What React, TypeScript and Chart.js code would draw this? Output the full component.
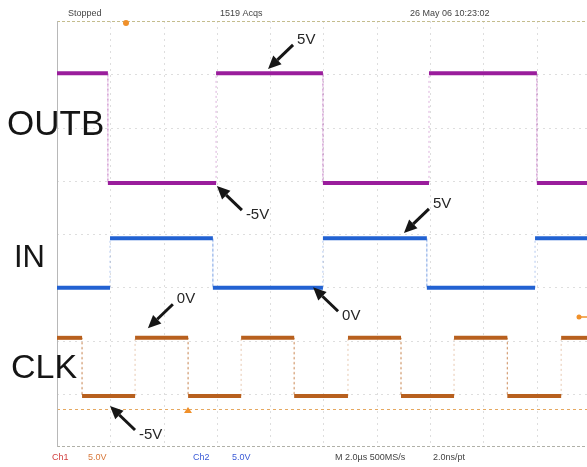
import { useEffect, useRef } from 'react';
import { Chart, registerables } from 'chart.js';

Chart.register(...registerables);

// ---- Data (time in µs, level in screen divisions from bottom) ----
const X_MAX = 19.89; // visible time span (µs), 2 µs/div
const Y_MAX = 8; // vertical divisions

const xGridValues = [2, 4, 6, 8, 10, 12, 14, 16, 18];
const yGridValues = [1, 2, 3, 4, 5, 6, 7];

const outbEdges = [1.91, 5.97, 9.98, 13.96, 18.01];
const outbLevels = [7.02, 4.96, 7.02, 4.96, 7.02, 4.96];

const inEdges = [1.99, 5.85, 9.98, 13.88, 17.94];
const inLevels = [2.99, 3.92, 2.99, 3.92, 2.99, 3.92];

const clkEdges = [0.94, 2.93, 4.92, 6.91, 8.9, 10.92, 12.91, 14.9, 16.9, 18.92];
const clkLevels = [2.05, 0.96, 2.05, 0.96, 2.05, 0.96, 2.05, 0.96, 2.05, 0.96, 2.05];

const clkRefLevel = 0.72; // orange dashed reference line

const signalNames = ['OUTB', 'IN', 'CLK'];
const signalColors = ['#9a1d9c', '#2262d2', '#b8601e'];
const signalFaint = ['rgba(154,29,156,0.35)', 'rgba(34,98,210,0.35)', 'rgba(184,96,30,0.35)'];

// arrow annotations: target point (µs, div)
const annoTexts = ['5V', '-5V', '5V', '0V', '0V', '-5V'];
const annoX = [7.92, 6.0, 13.02, 3.41, 9.61, 1.99];
const annoY = [7.1, 4.9, 4.02, 2.23, 3.0, 0.77];
const annoDir = [
  [1, -1],
  [1, 1],
  [1, -1],
  [1, -1],
  [1, 1],
  [1, 1],
];

const FONT = '"Liberation Sans", Arial, sans-serif';

function buildSteps(edges: number[], levels: number[]) {
  const pts: { x: number; y: number }[] = [{ x: 0, y: levels[0] }];
  edges.forEach((t, i) => {
    pts.push({ x: t, y: levels[i] });
    pts.push({ x: t, y: levels[i + 1] });
  });
  pts.push({ x: X_MAX, y: levels[levels.length - 1] });
  return pts;
}

const gridPlugin = {
  id: 'scopeGrid',
  beforeDatasetsDraw(chart: any) {
    const { ctx, chartArea, scales } = chart;
    const { left, right, top, bottom } = chartArea;
    const xs = scales.x;
    const ys = scales.y;
    ctx.save();
    ctx.lineWidth = 1;
    ctx.strokeStyle = '#dedede';
    ctx.setLineDash([2, 4]);
    xGridValues.forEach((v) => {
      const px = Math.round(xs.getPixelForValue(v)) + 0.5;
      ctx.beginPath();
      ctx.moveTo(px, top);
      ctx.lineTo(px, bottom);
      ctx.stroke();
    });
    yGridValues.forEach((v) => {
      const py = Math.round(ys.getPixelForValue(v)) + 0.5;
      ctx.beginPath();
      ctx.moveTo(left, py);
      ctx.lineTo(right, py);
      ctx.stroke();
    });
    // top & bottom borders
    ctx.setLineDash([3, 2]);
    ctx.strokeStyle = '#c4bd8e';
    let py = Math.round(ys.getPixelForValue(Y_MAX)) + 0.5;
    ctx.beginPath();
    ctx.moveTo(left, py);
    ctx.lineTo(right, py);
    ctx.stroke();
    ctx.strokeStyle = '#b0b0a8';
    py = Math.round(ys.getPixelForValue(0)) - 0.5;
    ctx.beginPath();
    ctx.moveTo(left, py);
    ctx.lineTo(right, py);
    ctx.stroke();
    // orange reference
    ctx.strokeStyle = '#e6a860';
    ctx.setLineDash([3, 3]);
    py = Math.round(ys.getPixelForValue(clkRefLevel)) + 0.5;
    ctx.beginPath();
    ctx.moveTo(left, py);
    ctx.lineTo(right, py);
    ctx.stroke();
    // left border
    ctx.setLineDash([]);
    ctx.strokeStyle = '#b8b8b8';
    const lx = Math.round(xs.getPixelForValue(0)) + 0.5;
    ctx.beginPath();
    ctx.moveTo(lx, top);
    ctx.lineTo(lx, bottom);
    ctx.stroke();
    ctx.restore();
  },
};

const overlayPlugin = {
  id: 'scopeOverlay',
  afterDatasetsDraw(chart: any) {
    const { ctx, scales } = chart;
    const xs = scales.x;
    const ys = scales.y;
    ctx.save();
    // arrows
    annoTexts.forEach((t, i) => {
      const hx = xs.getPixelForValue(annoX[i]);
      const hy = ys.getPixelForValue(annoY[i]);
      const [dx, dy] = annoDir[i];
      const tx = hx + dx * 25;
      const ty = hy + dy * 24;
      const ang = Math.atan2(hy - ty, hx - tx);
      const hl = 13;
      const hw = 6;
      const bx = hx - hl * Math.cos(ang);
      const by = hy - hl * Math.sin(ang);
      ctx.fillStyle = '#161616';
      ctx.strokeStyle = '#161616';
      ctx.lineWidth = 3;
      ctx.beginPath();
      ctx.moveTo(tx, ty);
      ctx.lineTo(bx, by);
      ctx.stroke();
      ctx.beginPath();
      ctx.moveTo(hx, hy);
      ctx.lineTo(bx + hw * Math.sin(ang), by - hw * Math.cos(ang));
      ctx.lineTo(bx - hw * Math.sin(ang), by + hw * Math.cos(ang));
      ctx.closePath();
      ctx.fill();
      ctx.font = '15px ' + FONT;
      ctx.textAlign = 'left';
      ctx.textBaseline = 'middle';
      ctx.fillStyle = '#262626';
      ctx.fillText(t, hx + dx * 29, hy + dy * 29);
    });

    // signal labels
    ctx.fillStyle = '#151515';
    ctx.textBaseline = 'alphabetic';
    ctx.textAlign = 'left';
    ctx.font = '35px ' + FONT;
    ctx.fillText(signalNames[0], 7, 135);
    ctx.font = '31px ' + FONT;
    ctx.fillText(signalNames[1], 14, 267);
    ctx.font = '34px ' + FONT;
    ctx.fillText(signalNames[2], 11, 378);

    // status line
    ctx.font = '9px ' + FONT;
    ctx.textBaseline = 'middle';
    ctx.fillStyle = '#444';
    ctx.fillText('Stopped', 68, 14);
    ctx.fillText('1519 Acqs', 220, 14);
    ctx.fillText('26 May 06 10:23:02', 410, 14);
    ctx.fillStyle = '#d24040';
    ctx.fillText('Ch1', 52, 458);
    ctx.fillStyle = '#d8783a';
    ctx.fillText('5.0V', 88, 458);
    ctx.fillStyle = '#3a5ad6';
    ctx.fillText('Ch2', 193, 458);
    ctx.fillText('5.0V', 232, 458);
    ctx.fillStyle = '#444';
    ctx.fillText('M 2.0\u00b5s 500MS/s', 335, 458);
    ctx.fillText('2.0ns/pt', 433, 458);

    // markers
    ctx.fillStyle = '#f0902a';
    ctx.beginPath();
    ctx.arc(126, 23, 3, 0, Math.PI * 2);
    ctx.fill();
    const ry = 317;
    ctx.beginPath();
    ctx.arc(579, ry, 2.5, 0, Math.PI * 2);
    ctx.fill();
    ctx.strokeStyle = '#f0902a';
    ctx.lineWidth = 1.5;
    ctx.beginPath();
    ctx.moveTo(579, ry);
    ctx.lineTo(587, ry);
    ctx.stroke();
    ctx.beginPath();
    ctx.moveTo(188, 407);
    ctx.lineTo(184, 413);
    ctx.lineTo(192, 413);
    ctx.closePath();
    ctx.fill();
    ctx.restore();
  },
};

export default function App() {
  const ref = useRef<HTMLCanvasElement | null>(null);

  useEffect(() => {
    if (!ref.current) return;
    const series = [
      buildSteps(outbEdges, outbLevels),
      buildSteps(inEdges, inLevels),
      buildSteps(clkEdges, clkLevels),
    ];
    const chart = new Chart(ref.current, {
      type: 'line',
      data: {
        datasets: series.map((pts, i) => ({
          label: signalNames[i],
          data: pts,
          borderColor: signalColors[i],
          borderWidth: 4,
          pointRadius: 0,
          tension: 0,
          fill: false,
          borderCapStyle: 'butt',
          segment: {
            borderColor: (c: any) => (c.p0.parsed.x === c.p1.parsed.x ? signalFaint[i] : undefined),
            borderWidth: (c: any) => (c.p0.parsed.x === c.p1.parsed.x ? 1 : undefined),
            borderDash: (c: any) => (c.p0.parsed.x === c.p1.parsed.x ? [2, 3] : undefined),
          },
        })),
      },
      options: {
        responsive: false,
        animation: false,
        parsing: false,
        normalized: true,
        layout: { padding: { left: 57, right: 0, top: 21, bottom: 20 } },
        plugins: { legend: { display: false }, tooltip: { enabled: false } },
        scales: {
          x: { type: 'linear', display: false, min: 0, max: X_MAX },
          y: { type: 'linear', display: false, min: 0, max: Y_MAX },
        },
      },
      plugins: [gridPlugin, overlayPlugin],
    } as any);
    return () => chart.destroy();
  }, []);

  return (
    <div style={{ position: 'fixed', left: 0, top: 0, width: 587, height: 467, background: '#fff' }}>
      <canvas ref={ref} width={587} height={467} style={{ display: 'block', width: 587, height: 467 }} />
    </div>
  );
}
